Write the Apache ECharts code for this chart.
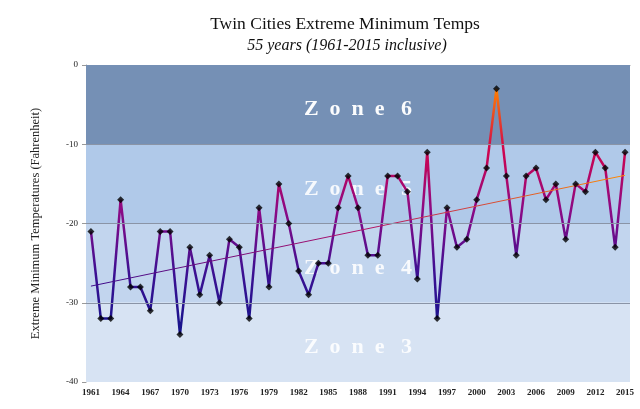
<!DOCTYPE html>
<html><head><meta charset="utf-8">
<script src="https://cdn.jsdelivr.net/npm/echarts@6/dist/echarts.min.js"></script>
<style>html,body{margin:0;padding:0;background:#fff}#c{width:640px;height:409px}</style>
</head><body><div id="c"></div>
<script>
const years = [];
for (let y = 1961; y <= 2015; y++) years.push(String(y));
const temps = [-21,-32,-32,-17,-28,-28,-31,-21,-21,-34,
  -23,-29,-24,-30,-22,-23,-32,-18,-28,-15,
  -20,-26,-29,-25,-25,-18,-14,-18,-24,-24,
  -14,-14,-16,-27,-11,-32,-18,-23,-22,-17,
  -13,-3,-14,-24,-14,-13,-17,-15,-22,-15,
  -16,-11,-13,-23,-11];
const zones = [
  {name:'Zone 6', top:0, bottom:-10, color:'#7590b5', text:'rgba(255,255,255,0.97)'},
  {name:'Zone 5', top:-10, bottom:-20, color:'#b0c9e9', text:'rgba(255,255,255,0.88)'},
  {name:'Zone 4', top:-20, bottom:-30, color:'#c2d5ee', text:'rgba(255,255,255,0.88)'},
  {name:'Zone 3', top:-30, bottom:-40, color:'#d7e3f3', text:'rgba(255,255,255,0.88)'}
];
const yTicks = {min:-40, max:0, interval:10};
const gridLevels = [-10, -20, -30];

// least squares trend line from the data
const n = temps.length;
let sx=0, sy=0, sxx=0, sxy=0;
temps.forEach((v,i)=>{sx+=i;sy+=v;sxx+=i*i;sxy+=i*v;});
const slope = (n*sxy - sx*sy)/(n*sxx - sx*sx);
const icpt = (sy - slope*sx)/n;
const trend = [[years[0], icpt], [years[n-1], icpt + slope*(n-1)]];

function spaced(s){ return s.split(' ')[0].split('').join('  ') + '   ' + s.split(' ')[1]; }

const serif = '"Liberation Serif","DejaVu Serif",serif';
const chart = echarts.init(document.getElementById('c'));
chart.setOption({
  animation:false,
  title:[
    {text:'Twin Cities Extreme Minimum Temps', left:340, top:10, textAlign:'center',
     textStyle:{fontFamily:serif, fontSize:17.5, fontWeight:'normal', color:'#111'}},
    {text:'55 years (1961-2015 inclusive)', left:342, top:33, textAlign:'center',
     textStyle:{fontFamily:serif, fontSize:16, fontStyle:'italic', fontWeight:'normal', color:'#111'}}
  ],
  grid:{left:86, right:10, top:65, bottom:27},
  xAxis:{type:'category', data:years, boundaryGap:true,
    axisLine:{lineStyle:{color:'#999'}},
    axisTick:{show:false},
    axisLabel:{interval:2, fontFamily:serif, fontSize:9, fontWeight:'bold', color:'#222', margin:6}},
  yAxis:{type:'value', min:yTicks.min, max:yTicks.max, interval:yTicks.interval,
    name:'Extreme Minimum Temperatures (Fahrenheit)', nameLocation:'middle', nameGap:44,
    nameTextStyle:{fontFamily:serif, fontSize:12.5, color:'#222'},
    axisLine:{show:true, lineStyle:{color:'#999'}},
    axisTick:{show:true, length:4, lineStyle:{color:'#999'}},
    axisLabel:{fontFamily:serif, fontSize:9, color:'#222', margin:8},
    splitLine:{show:false}},
  visualMap:{show:false, type:'continuous', seriesIndex:0, dimension:1, min:-34, max:-3,
    inRange:{color:['#14148c','#3c1092','#8a0a86','#d0044e','#ff8000']}},
  series:[
    {type:'line', data:temps, symbol:'none', lineStyle:{width:2.5}, z:3},
    {type:'line', data:temps, symbol:'none', lineStyle:{opacity:0}, z:1, silent:true,
     markArea:{silent:true, data: zones.map(z=>[
       {yAxis:z.top, itemStyle:{color:z.color}, label:{show:true, position:'inside', offset:[0,5],
         formatter:spaced(z.name), color:z.text, fontFamily:serif, fontSize:22, fontWeight:'bold'}},
       {yAxis:z.bottom}
     ])},
     markLine:{silent:true, symbol:'none', label:{show:false},
       lineStyle:{color:'#8a94a6', width:1, type:'solid'},
       data: gridLevels.map(v=>({yAxis:v}))}},
    {type:'line', data:trend, symbol:'none', z:4,
     lineStyle:{width:1, color:new echarts.graphic.LinearGradient(0,0,1,0,[
       {offset:0,color:'#3a0a8c'},{offset:0.5,color:'#b0106a'},{offset:1,color:'#ff8a00'}])}},
    {type:'scatter', data:temps, symbol:'diamond', symbolSize:7, z:5,
     itemStyle:{color:'#000'}}
  ]
});
</script></body></html>
